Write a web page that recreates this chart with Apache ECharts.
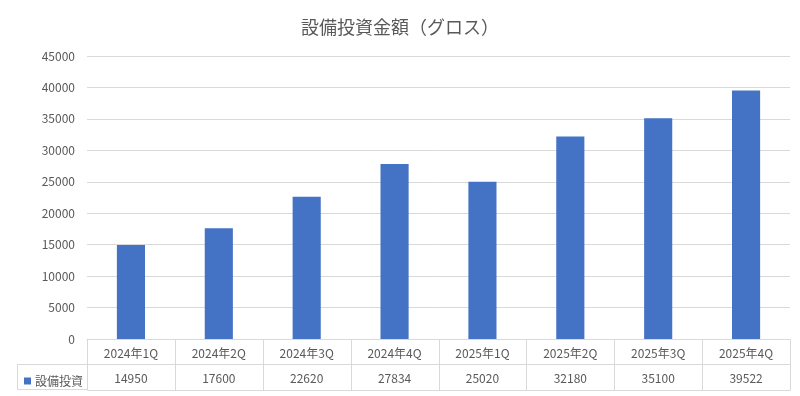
<!DOCTYPE html>
<html><head><meta charset="utf-8">
<script src="https://cdn.jsdelivr.net/npm/echarts@6/dist/echarts.min.js"></script>
<style>html,body{margin:0;padding:0;background:#fff}#c{width:800px;height:396px}</style>
</head><body><div id="c"></div>
<script>
const title = '設備投資金額（グロス）';
const seriesName = '設備投資';
const categories = ['2024年1Q','2024年2Q','2024年3Q','2024年4Q','2025年1Q','2025年2Q','2025年3Q','2025年4Q'];
const values = [14950, 17600, 22620, 27834, 25020, 32180, 35100, 39522];
const yMax = 45000, yStep = 5000;

const FONT = '"Noto Sans CJK JP", "Noto Sans", sans-serif';
const TXT = '#595959', LINE = '#d9d9d9', BAR = '#4472C4';

const chart = echarts.init(document.getElementById('c'), null, {renderer: 'canvas'});
chart.setOption({
  animation: false,
  backgroundColor: '#fff',
  textStyle: {fontFamily: FONT},
  title: {text: title, left: 'center', top: 18, padding: 0,
    textStyle: {fontSize: 18, fontWeight: 'normal', color: TXT, fontFamily: FONT}},
  legend: {data: [seriesName], left: 19, top: 370, icon: 'rect', itemWidth: 7, itemHeight: 7, itemGap: 0,
    textStyle: {fontSize: 12, color: TXT, fontFamily: FONT, padding: [0,0,0,-1]}},
  graphic: [{type: 'rect', shape: {x: 17.5, y: 364.5, width: 70, height: 25}, style: {fill: 'none', stroke: LINE, lineWidth: 1}, silent: true}],
  grid: [
    {left: 87, right: 10, top: 56, height: 283},
    {left: 87, right: 10, top: 339, height: 51}
  ],
  xAxis: [
    {type: 'category', gridIndex: 0, data: categories, axisLine: {show: true, lineStyle: {color: LINE}},
      axisTick: {show: false}, axisLabel: {show: false}},
    {type: 'category', gridIndex: 1, data: categories, show: false}
  ],
  yAxis: [
    {type: 'value', gridIndex: 0, min: 0, max: yMax, interval: yStep,
      axisLine: {show: false}, axisTick: {show: false},
      axisLabel: {color: TXT, fontSize: 12, margin: 12, fontFamily: FONT, formatter: v => String(v)},
      splitLine: {lineStyle: {color: LINE, width: 1}}},
    {type: 'value', gridIndex: 1, min: 0, max: 51, show: false}
  ],
  series: [
    {name: seriesName, type: 'bar', xAxisIndex: 0, yAxisIndex: 0, data: values, barWidth: '32%',
      itemStyle: {color: BAR}},
    {name: 'table', type: 'custom', xAxisIndex: 1, yAxisIndex: 1, silent: true,
      data: categories.map((c, i) => [i, values[i]]),
      renderItem: function (params, api) {
        const i = api.value(0);
        const w = api.size([1, 0])[0];
        const bot = api.coord([i, 0]);
        const top = api.coord([i, 51]);
        const mid = api.coord([i, 26]);
        const x0 = Math.round(bot[0] - w / 2) + 0.5, x1 = Math.round(bot[0] + w / 2) + 0.5;
        const yt = Math.round(top[1]) + 0.5, ym = Math.round(mid[1]) + 0.5, yb = Math.round(bot[1]) + 0.5;
        return {type: 'group', children: [
          {type: 'polyline', shape: {points: [[x0, yt], [x0, yb], [x1, yb], [x1, yt]]}, style: {fill: 'none', stroke: LINE, lineWidth: 1}},
          {type: 'line', shape: {x1: x0, y1: ym, x2: x1, y2: ym}, style: {stroke: LINE, lineWidth: 1}},
          {type: 'text', style: {text: categories[i], x: bot[0], y: (yt + ym) / 2 + 1, align: 'center', verticalAlign: 'middle', fill: TXT, font: '12px ' + FONT}},
          {type: 'text', style: {text: String(values[i]), x: bot[0], y: (ym + yb) / 2 + 1, align: 'center', verticalAlign: 'middle', fill: TXT, font: '12px ' + FONT}}
        ]};
      }}
  ]
});
</script></body></html>
